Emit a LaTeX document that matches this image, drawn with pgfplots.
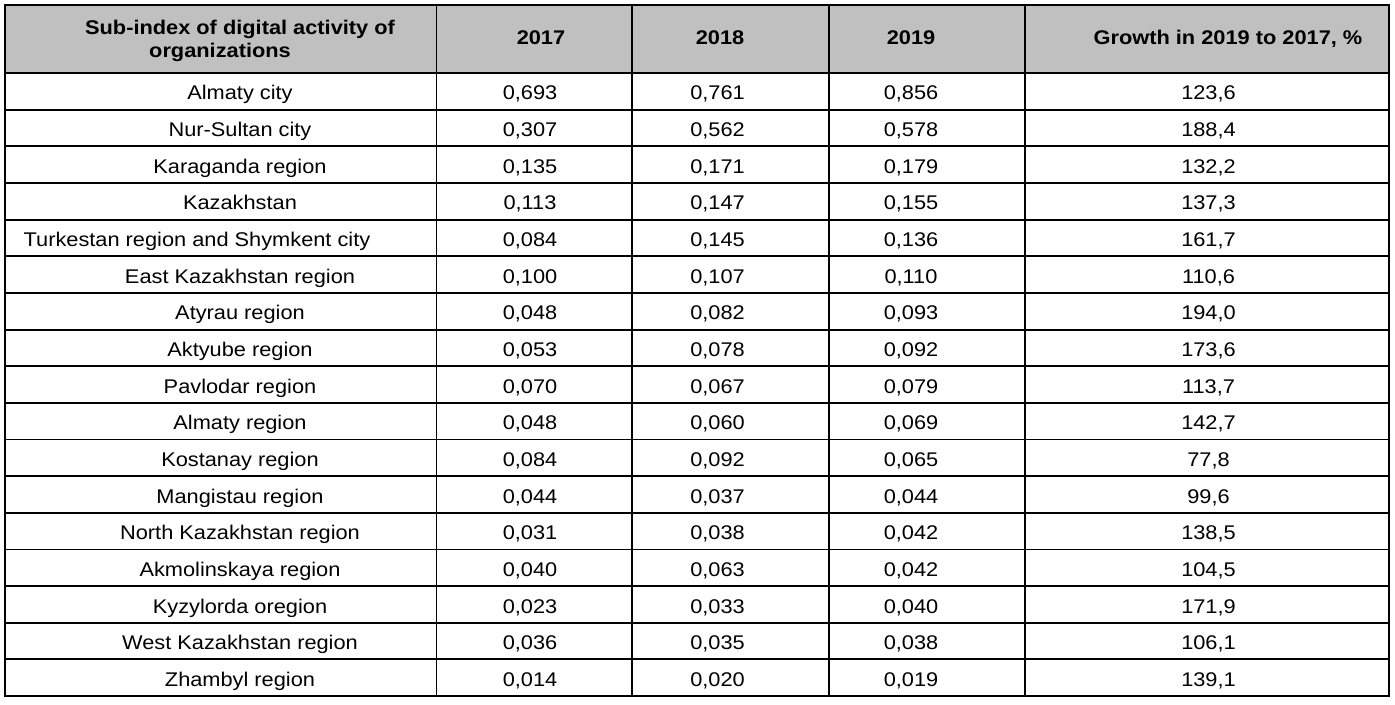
\documentclass[border=0pt]{standalone}
\usepackage{pgfplots}
\pgfplotsset{compat=1.18}
\usepackage{pgfplotstable}
\usepackage{fontspec}
\setmainfont{Liberation Sans}[FakeStretch=1.1]
\definecolor{hdr}{RGB}{192,192,192}
\pgfkeys{
  /pgf/number format/numfmt3/.style={fixed, fixed zerofill, precision=3, use comma, assume math mode=true},
  /pgf/number format/numfmt1/.style={fixed, fixed zerofill, precision=1, use comma, assume math mode=true},
}

\pgfplotstableread[col sep=comma]{
idx,nx,name,a,b,c,g
0,240,Almaty city,0.693,0.761,0.856,123.6
1,240,Nur-Sultan city,0.307,0.562,0.578,188.4
2,240,Karaganda region,0.135,0.171,0.179,132.2
3,240,Kazakhstan,0.113,0.147,0.155,137.3
4,197,Turkestan region and Shymkent city,0.084,0.145,0.136,161.7
5,240,East Kazakhstan region,0.100,0.107,0.110,110.6
6,240,Atyrau region,0.048,0.082,0.093,194.0
7,240,Aktyube region,0.053,0.078,0.092,173.6
8,240,Pavlodar region,0.070,0.067,0.079,113.7
9,240,Almaty region,0.048,0.060,0.069,142.7
10,240,Kostanay region,0.084,0.092,0.065,77.8
11,240,Mangistau region,0.044,0.037,0.044,99.6
12,240,North Kazakhstan region,0.031,0.038,0.042,138.5
13,240,Akmolinskaya region,0.040,0.063,0.042,104.5
14,240,Kyzylorda oregion,0.023,0.033,0.040,171.9
15,240,West Kazakhstan region,0.036,0.035,0.038,106.1
16,240,Zhambyl region,0.014,0.020,0.019,139.1
}\datatable

\begin{document}
\begin{tikzpicture}
\begin{axis}[
  scale only axis, width=1395bp, height=705bp,
  xmin=0, xmax=1395, ymin=0, ymax=705, y dir=reverse,
  hide axis, clip=false,
  every node near coord/.append style={anchor=base, inner sep=0pt, text=black,
    font=\fontsize{19.8bp}{23bp}\selectfont},
  gridline/.style={black, line width=1.9bp, line cap=rect, mark=none, forget plot},
]
% invisible frame so the picture keeps the full page size
\addplot[draw=none, mark=none, forget plot] coordinates {(0,0) (1395,705)};
% header fill
\addplot[fill=hdr, draw=none, forget plot] coordinates {(5,5) (1389,5) (1389,73) (5,73)} --cycle;

% horizontal lines
\pgfplotsinvokeforeach{5,73,109.65,146.3,182.95,219.6,256.25,292.9,329.55,366.2,402.85,439.5,476.15,512.8,549.45,586.1,622.75,659.4,696.05}{
  \addplot[gridline] coordinates {(5,#1) (1389,#1)};
}
% vertical lines
\pgfplotsinvokeforeach{5,436.5,632,829,1025,1389}{
  \addplot[gridline] coordinates {(#1,5) (#1,696.05)};
}

% names
\addplot[draw=none, mark=none, nodes near coords, point meta=explicit symbolic]
  table[x=nx, y expr={73+36.65*\thisrow{idx}+27}, meta=name] {\datatable};
% 2017
\addplot[draw=none, mark=none, nodes near coords={\pgfmathprintnumber[numfmt3]{\pgfplotspointmeta}}, point meta=explicit]
  table[x expr=530, y expr={73+36.65*\thisrow{idx}+27}, meta=a] {\datatable};
% 2018
\addplot[draw=none, mark=none, nodes near coords={\pgfmathprintnumber[numfmt3]{\pgfplotspointmeta}}, point meta=explicit]
  table[x expr=717.5, y expr={73+36.65*\thisrow{idx}+27}, meta=b] {\datatable};
% 2019
\addplot[draw=none, mark=none, nodes near coords={\pgfmathprintnumber[numfmt3]{\pgfplotspointmeta}}, point meta=explicit]
  table[x expr=911, y expr={73+36.65*\thisrow{idx}+27}, meta=c] {\datatable};
% growth
\addplot[draw=none, mark=none, nodes near coords={\pgfmathprintnumber[numfmt1]{\pgfplotspointmeta}}, point meta=explicit]
  table[x expr=1208.5, y expr={73+36.65*\thisrow{idx}+27}, meta=g] {\datatable};

% header texts
\begin{scope}[every node/.style={anchor=base, inner sep=0pt, font=\fontsize{19.8bp}{23bp}\selectfont\bfseries}]
\node at (axis cs:240,35) {Sub-index of digital activity of};
\node at (axis cs:220,58) {organizations};
\node at (axis cs:541,45) {2017};
\node at (axis cs:720,45) {2018};
\node at (axis cs:911,45) {2019};
\node at (axis cs:1228,45) {Growth in 2019 to 2017, \%};
\end{scope}
\end{axis}
\end{tikzpicture}
\end{document}
